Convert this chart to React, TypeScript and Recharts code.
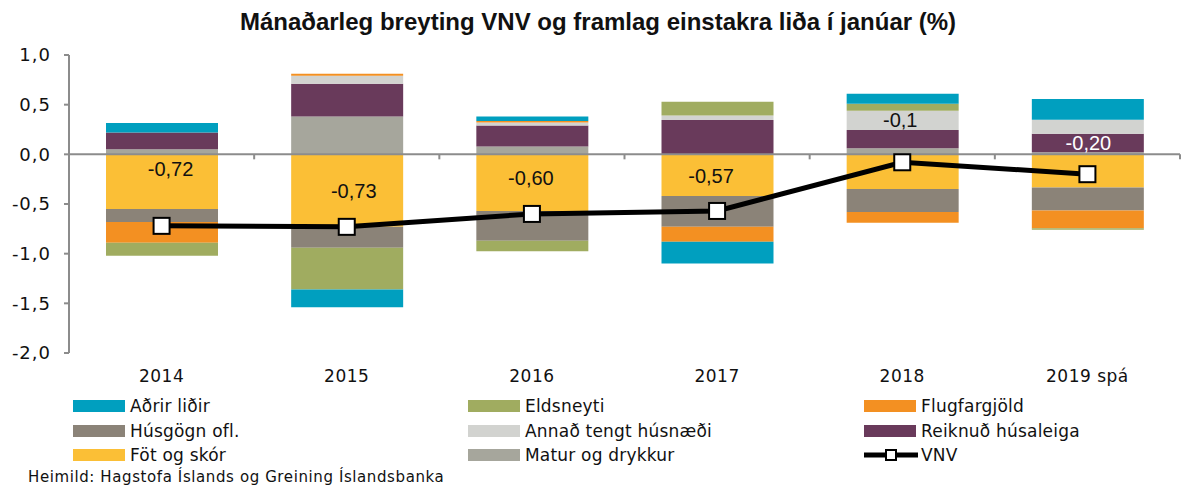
import { Bar, ComposedChart, LabelList, Line, ReferenceLine, XAxis, YAxis } from "recharts";

const categories = ["2014", "2015", "2016", "2017", "2018", "2019 spá"];

// framlag einstakra liða (prósentustig)
const maturOgDrykkur = [0.05, 0.38, 0.08, 0, 0.06, 0.02];
const fotOgSkor = [-0.55, -0.73, -0.57, -0.42, -0.35, -0.335];
const reiknudHusaleiga = [0.17, 0.33, 0.21, 0.345, 0.185, 0.187];
const annadTengtHusnaedi = [0, 0.08, 0.03, 0.045, 0.195, 0.14];
const husgognOfl = [-0.13, -0.21, -0.3, -0.31, -0.23, -0.23];
const flugfargjold = [-0.21, 0.02, 0.015, -0.15, -0.11, -0.18];
const eldsneyti = [-0.13, -0.42, -0.105, 0.14, 0.07, -0.015];
const adrirLidir = [0.095, -0.18, 0.045, -0.22, 0.1, 0.21];
const vnv = [-0.72, -0.73, -0.6, -0.57, -0.08, -0.2];
const vnvLabels = ["-0,72", "-0,73", "-0,60", "-0,57", "-0,1", "-0,20"];

const yTicks = [-2, -1.5, -1, -0.5, 0, 0.5, 1];

// where each VNV label sits relative to its marker
const labelDx = [9, 7, -1, -6, -2, 1];
const labelDy = [-57, -36, -36, -35, -42, -31];

const series = [
  { key: "matur", name: "Matur og drykkur", color: "#A6A69C" },
  { key: "fot", name: "Föt og skór", color: "#FBBF36" },
  { key: "reikn", name: "Reiknuð húsaleiga", color: "#693A5B" },
  { key: "annad", name: "Annað tengt húsnæði", color: "#D2D3D0" },
  { key: "husg", name: "Húsgögn ofl.", color: "#8B8378" },
  { key: "flug", name: "Flugfargjöld", color: "#F39022" },
  { key: "elds", name: "Eldsneyti", color: "#A0AC60" },
  { key: "adrir", name: "Aðrir liðir", color: "#009FBF" },
];

const data = categories.map((c, i) => ({
  cat: c,
  matur: maturOgDrykkur[i],
  fot: fotOgSkor[i],
  reikn: reiknudHusaleiga[i],
  annad: annadTengtHusnaedi[i],
  husg: husgognOfl[i],
  flug: flugfargjold[i],
  elds: eldsneyti[i],
  adrir: adrirLidir[i],
  vnv: vnv[i],
}));

const legendRows = [
  ["adrir", "elds", "flug"],
  ["husg", "annad", "reikn"],
  ["fot", "matur", "vnv"],
];
const legendCols = [73, 468, 864];
const legendRowY = [406, 430.5, 455];

const axisFont = "'DejaVu Sans', sans-serif";

function ZeroLine(p: any) {
  const { x1, x2, y1 } = p;
  const bw = (x2 - x1) / categories.length;
  return (
    <g>
      <line x1={x1} x2={x2} y1={y1} y2={y1} stroke="#8C8C8C" strokeWidth={2} />
      {categories.map((_, k) => (
        <line key={k} x1={x1 + bw * (k + 1)} x2={x1 + bw * (k + 1)} y1={y1} y2={y1 + 5} stroke="#8C8C8C" strokeWidth={2} />
      ))}
    </g>
  );
}

function SquareDot(p: any) {
  const { cx, cy } = p;
  if (cx == null || cy == null) return null;
  return <rect x={cx - 8} y={cy - 8} width={16} height={16} fill="#fff" stroke="#000" strokeWidth={2} />;
}

function VnvLabel(p: any) {
  const { x, y, index } = p;
  return (
    <text
      x={x + labelDx[index]}
      y={y + labelDy[index]}
      textAnchor="middle"
      dominantBaseline="central"
      fontSize={20}
      fontFamily="'Liberation Sans', Arial, sans-serif"
      fill={index === 5 ? "#fff" : "#111"}
    >
      {vnvLabels[index]}
    </text>
  );
}

function LegendItem({ k, x, y }: { k: string; x: number; y: number }) {
  const s = series.find((d) => d.key === k);
  const label = s ? s.name : "VNV";
  return (
    <div style={{ position: "absolute", left: x, top: y - 12, height: 24, display: "flex", alignItems: "center" }}>
      {s ? (
        <div style={{ width: 52, height: 12, background: s.color }} />
      ) : (
        <svg width={54} height={14}>
          <line x1={0} x2={54} y1={7} y2={7} stroke="#000" strokeWidth={5} />
          <rect x={22} y={2} width={10} height={10} fill="#fff" stroke="#000" strokeWidth={2} />
        </svg>
      )}
      <span style={{ marginLeft: s ? 5 : 3, fontFamily: axisFont, fontSize: 17, letterSpacing: 0.2, color: "#111", whiteSpace: "nowrap" }}>
        {label}
      </span>
    </div>
  );
}

export default function App() {
  return (
    <div style={{ position: "absolute", left: 0, top: 0, width: 1184, height: 491, background: "#fff", overflow: "hidden" }}>
      <div
        style={{
          position: "absolute",
          left: 0,
          width: 1196,
          top: 8,
          textAlign: "center",
          fontFamily: "'Liberation Sans Narrow', 'Arial Narrow', sans-serif",
          fontWeight: "bold",
          fontSize: 24,
          color: "#111",
        }}
      >
        Mánaðarleg breyting VNV og framlag einstakra liða í janúar (%)
      </div>
      <div style={{ position: "absolute", left: 0, top: 0 }}>
        <ComposedChart
          width={1184}
          height={395}
          data={data}
          stackOffset="sign"
          margin={{ top: 55, right: 4, bottom: 12, left: 8 }}
        >
          <XAxis
            dataKey="cat"
            axisLine={false}
            tickLine={false}
            height={30}
            tickMargin={11}
            tick={{ fontSize: 17, fontFamily: axisFont, fill: "#111", letterSpacing: 0.5 }}
          />
          <YAxis
            domain={[-2, 1]}
            ticks={yTicks}
            width={61}
            tickSize={5}
            tickMargin={13}
            axisLine={{ stroke: "#8C8C8C", strokeWidth: 2 }}
            tickLine={{ stroke: "#8C8C8C", strokeWidth: 2 }}
            tick={{ fontSize: 18, fontFamily: axisFont, fill: "#111", letterSpacing: 1 }}
            tickFormatter={(v: number) => v.toFixed(1).replace(".", ",")}
          />
          {series.map((s) => (
            <Bar key={s.key} dataKey={s.key} name={s.name} stackId="a" fill={s.color} barSize={112} isAnimationActive={false} />
          ))}
          <ReferenceLine y={0} shape={ZeroLine} />
          <Line
            dataKey="vnv"
            name="VNV"
            stroke="#000"
            strokeWidth={5}
            dot={SquareDot}
            activeDot={false}
            isAnimationActive={false}
          >
            <LabelList dataKey="vnv" content={VnvLabel} />
          </Line>
        </ComposedChart>
      </div>
      {legendRows.map((row, r) =>
        row.map((k, c) => <LegendItem key={k} k={k} x={legendCols[c]} y={legendRowY[r]} />)
      )}
      <div
        style={{
          position: "absolute",
          left: 28,
          top: 468,
          fontFamily: axisFont,
          fontSize: 15,
          letterSpacing: 0.6,
          color: "#111",
          whiteSpace: "nowrap",
        }}
      >
        Heimild: Hagstofa Íslands og Greining Íslandsbanka
      </div>
    </div>
  );
}
